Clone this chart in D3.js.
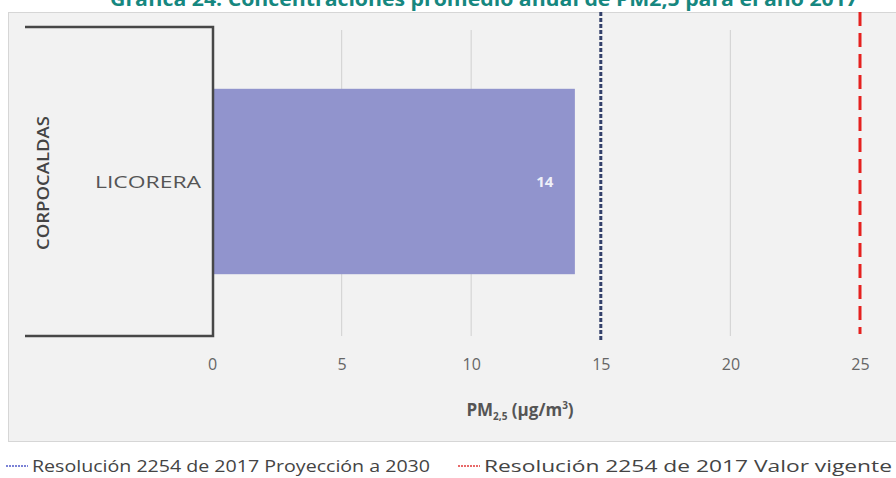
<!DOCTYPE html>
<html>
<head>
<meta charset="utf-8">
<script src="https://cdn.jsdelivr.net/npm/d3@7"></script>
<style>
  body { margin: 0; background: #fff; }
  svg { display: block; font-family: "Open Sans", "Noto Sans", sans-serif; }
</style>
</head>
<body>
<svg id="chart" width="896" height="478"></svg>
<script>
// data
var groups = ["CORPOCALDAS"];
var stations = ["LICORERA"];
var values = [14];
var xTicks = [0, 5, 10, 15, 20, 25];
var limits = [
  { name: "Resolución 2254 de 2017 Proyección a 2030", value: 15, color: "#34416b", dash: "4,2", width: 3 },
  { name: "Resolución 2254 de 2017 Valor vigente", value: 25, color: "#e5211f", dash: "14,7", width: 3 }
];
var title = "Gráfica 24. Concentraciones promedio anual de PM2,5 para el año 2017";

var svg = d3.select("#chart");

// title, cropped at the top like the source image
svg.append("text")
  .attr("x", 484).attr("y", 6)
  .attr("text-anchor", "middle")
  .attr("font-size", 19).attr("font-weight", "bold")
  .attr("fill", "#16877f")
  .attr("textLength", 748).attr("lengthAdjust", "spacingAndGlyphs")
  .text(title);

// panel
svg.append("rect")
  .attr("x", 8.5).attr("y", 12.5)
  .attr("width", 900).attr("height", 429)
  .attr("fill", "#f2f2f2").attr("stroke", "#d6d6d6");

var x = d3.scaleLinear().domain([0, 25]).range([212, 860]);
var y = d3.scaleBand().domain(stations).range([27, 336]).paddingInner(0.4).paddingOuter(0.2);

// grid
svg.append("g").selectAll("line")
  .data(xTicks.filter(d => d > 0 && !limits.some(l => l.value == d)))
  .enter().append("line")
  .attr("x1", d => x(d)).attr("x2", d => x(d))
  .attr("y1", 30).attr("y2", 336)
  .attr("stroke", "#d6d6d6").attr("stroke-width", 1.2);

// bars
svg.append("g").selectAll("rect")
  .data(values)
  .enter().append("rect")
  .attr("x", x(0))
  .attr("y", (d, i) => y(stations[i]))
  .attr("width", d => x(d) - x(0))
  .attr("height", y.bandwidth())
  .attr("fill", "#9194cd");

svg.append("g").selectAll("text")
  .data(values)
  .enter().append("text")
  .attr("x", d => x(d) - 30)
  .attr("y", (d, i) => y(stations[i]) + y.bandwidth() / 2 + 5)
  .attr("text-anchor", "middle")
  .attr("font-size", 15).attr("font-weight", "bold")
  .attr("fill", "#eef0f8")
  .text(d => d);

// limit lines
svg.append("g").selectAll("line")
  .data(limits)
  .enter().append("line")
  .attr("x1", d => x(d.value)).attr("x2", d => x(d.value))
  .attr("y1", 12).attr("y2", d => d.value == 15 ? 342 : 334)
  .attr("stroke", d => d.color)
  .attr("stroke-width", d => d.width)
  .attr("stroke-dasharray", d => d.dash);

// category bracket
svg.append("path")
  .attr("d", "M25,27H213V336H25")
  .attr("fill", "none")
  .attr("stroke", "#474747").attr("stroke-width", 2.5);

svg.append("g").selectAll("text")
  .data(stations)
  .enter().append("text")
  .attr("x", 148)
  .attr("y", d => y(d) + y.bandwidth() / 2 + 6)
  .attr("text-anchor", "middle")
  .attr("font-size", 16).attr("fill", "#555")
  .attr("textLength", 106).attr("lengthAdjust", "spacingAndGlyphs")
  .text(d => d);

svg.append("g").selectAll("text")
  .data(groups)
  .enter().append("text")
  .attr("transform", "translate(49,183) rotate(-90)")
  .attr("text-anchor", "middle")
  .attr("font-size", 16).attr("font-weight", 600).attr("fill", "#444")
  .attr("textLength", 134).attr("lengthAdjust", "spacingAndGlyphs")
  .text(d => d);

// x axis labels
var xAxis = svg.append("g")
  .attr("transform", "translate(0,338)")
  .call(d3.axisBottom(x).tickValues(xTicks).tickSize(0).tickPadding(21));
xAxis.select(".domain").remove();
xAxis.selectAll("text")
  .attr("font-family", "Open Sans, sans-serif")
  .attr("font-size", 16).attr("fill", "#666");

var axisTitle = svg.append("text")
  .attr("x", 520).attr("y", 416)
  .attr("text-anchor", "middle")
  .attr("font-size", 17).attr("font-weight", "bold").attr("fill", "#555");
axisTitle.append("tspan").text("PM");
axisTitle.append("tspan").attr("font-size", 10).attr("dy", 4).text("2,5");
axisTitle.append("tspan").attr("dy", -4).text(" (µg/m");
axisTitle.append("tspan").attr("font-size", 10).attr("dy", -7).text("3");
axisTitle.append("tspan").attr("dy", 7).text(")");

// legend
var legendX = [6, 458];
var legend = svg.append("g").selectAll("g")
  .data(limits)
  .enter().append("g")
  .attr("transform", (d, i) => "translate(" + legendX[i] + ",466)");

legend.append("line")
  .attr("x1", 0).attr("x2", 22)
  .attr("y1", 0).attr("y2", 0)
  .attr("stroke", (d, i) => i == 0 ? "#7b82d6" : "#e86a6a")
  .attr("stroke-width", 2)
  .attr("stroke-dasharray", "2,1");

legend.append("text")
  .attr("x", 26).attr("y", 6)
  .attr("font-size", 16).attr("fill", "#444")
  .attr("textLength", (d, i) => i == 0 ? 398 : 408)
  .attr("lengthAdjust", "spacingAndGlyphs")
  .text(d => d.name);
</script>
</body>
</html>
